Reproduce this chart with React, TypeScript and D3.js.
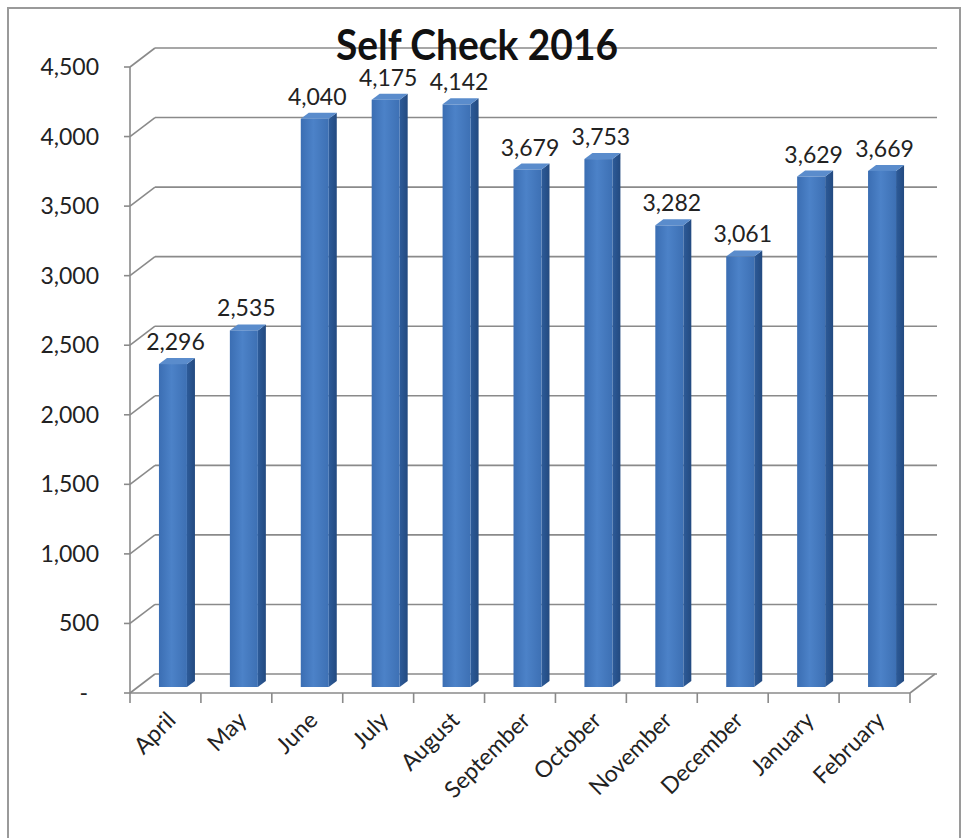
import * as d3 from 'd3';

const months = ['April', 'May', 'June', 'July', 'August', 'September', 'October', 'November', 'December', 'January', 'February'];
const checks = [2296, 2535, 4040, 4175, 4142, 3679, 3753, 3282, 3061, 3629, 3669];
const yTicks = [0, 500, 1000, 1500, 2000, 2500, 3000, 3500, 4000, 4500];

const W = 964;
const H = 838;
const LEFT = 130;
const RIGHT = 910;
// depth of the 3d box (front -> back wall)
const DX = 25;
const DY = 19;
const BAR_W = 28;
const BAR_DX = 8;
const BAR_DY = 6;
const FONT = 'Lato, "Open Sans", sans-serif';
const GRID = '#8a8a8a';

const fmt = d3.format(',');

export default function App() {
  const x = d3.scaleBand<string>().domain(months).range([LEFT, RIGHT]).padding(0);
  const y = d3.scaleLinear().domain([0, 4500]).range([693, 67]);
  // bars sit a bit into the box, so their base is raised
  const yBar = d3.scaleLinear().domain([0, 4500]).range([687, 54]);
  const bw = x.bandwidth();

  return (
    <svg width={W} height={H} style={{ position: 'absolute', left: 0, top: 0, background: '#fff' }}>
      <defs>
        <linearGradient id="front" x1="0" x2="1" y1="0" y2="0">
          <stop offset="0%" stopColor="#3b6eb3" />
          <stop offset="45%" stopColor="#4c82c8" />
          <stop offset="100%" stopColor="#3d70b4" />
        </linearGradient>
        <linearGradient id="side" x1="0" x2="1" y1="0" y2="0">
          <stop offset="0%" stopColor="#2d5b99" />
          <stop offset="100%" stopColor="#234a80" />
        </linearGradient>
      </defs>

      <rect x={8} y={8} width={952} height={860} fill="none" stroke="#9a9a9a" strokeWidth={2} />

      {/* back wall gridlines + side wall diagonals */}
      {yTicks.map((t) => (
        <g key={t} stroke={GRID} strokeWidth={1.6} fill="none">
          <line x1={LEFT} y1={y(t)} x2={LEFT + DX} y2={y(t) - DY} />
          <line x1={LEFT + DX} y1={y(t) - DY} x2={RIGHT + DX + 2} y2={y(t) - DY} />
          <line x1={LEFT - 6} y1={y(t)} x2={LEFT} y2={y(t)} />
        </g>
      ))}

      {/* floor right edge and front axis */}
      <g stroke={GRID} strokeWidth={1.6}>
        <line x1={RIGHT} y1={y(0)} x2={RIGHT + DX} y2={y(0) - DY} />
        <line x1={LEFT} y1={y(0)} x2={RIGHT} y2={y(0)} />
        <line x1={LEFT} y1={y(4500)} x2={LEFT} y2={y(0)} />
        {months.concat(['']).map((m, i) => {
          const xx = LEFT + i * bw;
          return <line key={i} x1={xx} y1={y(0)} x2={xx} y2={y(0) + 10} />;
        })}
      </g>

      {/* bars */}
      {months.map((m, i) => {
        const v = checks[i];
        const x0 = (x(m) ?? 0) + bw / 2 + 7.5 - BAR_W / 2;
        const x1 = x0 + BAR_W;
        const top = yBar(v);
        const base = yBar(0);
        const side = `M${x1},${top} L${x1 + BAR_DX},${top - BAR_DY} L${x1 + BAR_DX},${base - BAR_DY} L${x1},${base} Z`;
        const lid = `M${x0},${top} L${x0 + BAR_DX},${top - BAR_DY} L${x1 + BAR_DX},${top - BAR_DY} L${x1},${top} Z`;
        return (
          <g key={m}>
            <path d={side} fill="url(#side)" />
            <path d={lid} fill="#5a8ccc" />
            <rect x={x0} y={top} width={BAR_W} height={base - top} fill="url(#front)" />
          </g>
        );
      })}

      {/* data labels */}
      {months.map((m, i) => (
        <text
          key={m}
          x={(x(m) ?? 0) + bw / 2 + 10}
          y={yBar(checks[i]) - 22}
          dy="0.35em"
          textAnchor="middle"
          fontFamily={FONT}
          fontSize={23}
          fill="#222"
        >
          {fmt(checks[i])}
        </text>
      ))}

      {/* y tick labels */}
      {yTicks.map((t) => (
        <text
          key={t}
          x={t === 0 ? 88 : 99}
          y={y(t)}
          dy="0.35em"
          textAnchor="end"
          fontFamily={FONT}
          fontSize={23}
          fill="#222"
        >
          {t === 0 ? '-' : fmt(t)}
        </text>
      ))}

      {/* x labels */}
      {months.map((m) => {
        const cx = (x(m) ?? 0) + bw / 2 + 6;
        const cy = 716;
        return (
          <text
            key={m}
            transform={`translate(${cx},${cy}) rotate(-45)`}
            dy="0.35em"
            textAnchor="end"
            fontFamily={FONT}
            fontSize={23}
            fill="#222"
          >
            {m}
          </text>
        );
      })}

      <text
        x={477}
        y={60}
        textAnchor="middle"
        fontFamily={FONT}
        fontWeight="bold"
        fontSize={42}
        textLength={282}
        lengthAdjust="spacingAndGlyphs"
        fill="#111"
      >
        Self Check 2016
      </text>
    </svg>
  );
}
